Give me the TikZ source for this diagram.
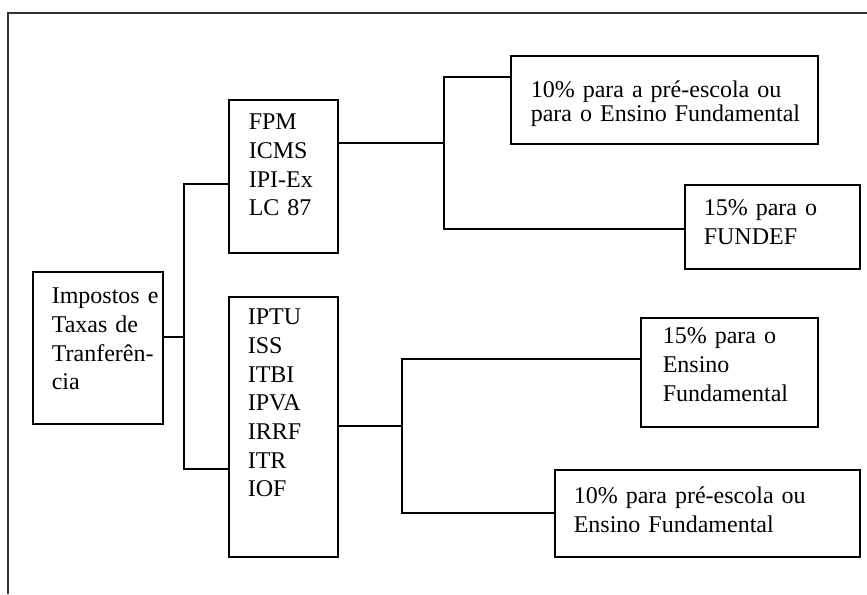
\documentclass[tikz,border=0pt]{standalone}
\usepackage{fontspec}
\setmainfont{Liberation Serif}
\usetikzlibrary{calc}
\hyphenpenalty=10000
\exhyphenpenalty=10000

\begin{document}
\begin{tikzpicture}[x=0.75pt, y=-0.75pt,
    box/.style={draw, line width=1.2pt, anchor=north west, inner ysep=0pt, align=left, font=\fontsize{18}{21.5}\selectfont},
    link/.style={line width=1.2pt}]
    \useasboundingbox (0,0) rectangle (867,594);
    \draw[line width=1.5pt, black!80] (8,594) -- (8,13) -- (867,13);

    \node (root) [box, inner xsep=14.25pt, text width=69pt, text height=24pt, text depth=90pt] at (32,271) {Impostos~e\\Taxas~de\\Tranferên-\\cia};
    \node (fpm) [box, inner xsep=15pt, text width=51.75pt, text height=22.5pt, text depth=92.25pt] at (228,99) {FPM\\ICMS\\IPI-Ex\\LC~87};
    \node (iptu) [box, inner xsep=14.25pt, text width=53.25pt, text height=21pt, text depth=174pt] at (228,296) {IPTU\\ISS\\ITBI\\IPVA\\IRRF\\ITR\\IOF};

    \node (preesc) [box, inner xsep=15pt, text width=200.25pt, text height=31.5pt, text depth=34.5pt] at (510,55) {10\%~para~a~pré-escola~ou\\[-3.5pt]para~o~Ensino~Fundamental};
    \node (fundef) [box, inner xsep=14.25pt, text width=102.75pt, text height=23.25pt, text depth=39.75pt] at (684,184) {15\%~para~o\\FUNDEF};
    \node (ensfund) [box, inner xsep=16.5pt, text width=99.75pt, text height=19.5pt, text depth=62.25pt] at (640,317) {15\%~para~o\\Ensino\\Fundamental};
    \node (preou) [box, inner xsep=14.25pt, text width=200.25pt, text height=25.5pt, text depth=39.75pt] at (554,469) {10\%~para~pré-escola~ou\\Ensino~Fundamental};

    \coordinate (tm) at (184,337);
    \coordinate (t1) at (184,184);
    \coordinate (t2) at (184,469);
    \coordinate (um) at (444,143);
    \coordinate (u1) at (444,77);
    \coordinate (u2) at (444,229);
    \coordinate (lm) at (402,426);
    \coordinate (l1) at (402,359);
    \coordinate (l2) at (402,513);

    \draw[link] (root.east |- tm) -- (tm);
    \draw[link] (fpm.west |- t1) -- (t1) -- (t2) -- (iptu.west |- t2);
    \draw[link] (fpm.east |- um) -- (um);
    \draw[link] (preesc.west |- u1) -- (u1) -- (u2) -- (fundef.west |- u2);
    \draw[link] (iptu.east |- lm) -- (lm);
    \draw[link] (ensfund.west |- l1) -- (l1) -- (l2) -- (preou.west |- l2);
\end{tikzpicture}
\end{document}
